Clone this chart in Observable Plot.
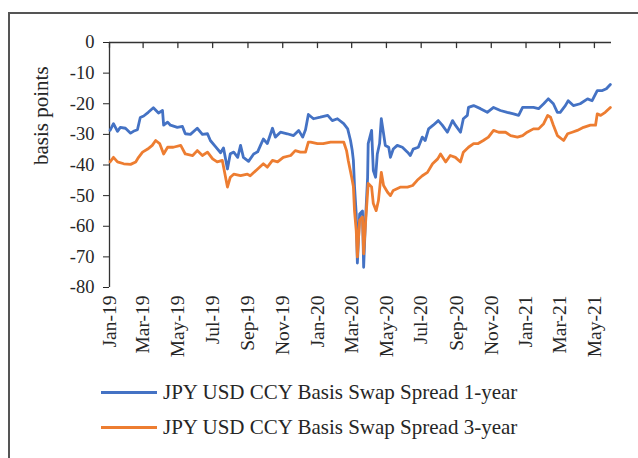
<!DOCTYPE html>
<html>
<head>
<meta charset="utf-8">
<script src="https://cdn.jsdelivr.net/npm/d3@7"></script>
<script src="https://cdn.jsdelivr.net/npm/@observablehq/plot@0.6"></script>
<style>
  html, body { margin: 0; padding: 0; background: #fff; width: 638px; height: 458px; overflow: hidden; }
  #border { position: absolute; left: 8px; top: 12px; width: 700px; height: 500px;
            border-left: 2px solid #555; border-top: 2px solid #555; }
  #chart { position: absolute; left: 0; top: 0; }
  #legend { position: absolute; left: 101px; top: 375px; font-family: "Liberation Serif", serif;
            font-size: 21px; color: #262626; }
  .row { display: flex; align-items: center; height: 35px; }
  .sw { width: 56px; height: 3px; margin-right: 6px; }
</style>
</head>
<body>
<div id="border"></div>
<div id="chart"></div>
<div id="legend"></div>
<script>
const seriesNames = ["JPY USD CCY Basis Swap Spread 1-year", "JPY USD CCY Basis Swap Spread 3-year"];
const seriesColors = ["#4472C4", "#ED7D31"];
const xDomain = ["2019-01-01", "2021-05-31"];
const yTicks = [0, -10, -20, -30, -40, -50, -60, -70, -80];
const xTicks = ["2019-01-01","2019-03-01","2019-05-01","2019-07-01","2019-09-01","2019-11-01",
  "2020-01-01","2020-03-01","2020-05-01","2020-07-01","2020-09-01","2020-11-01",
  "2021-01-01","2021-03-01","2021-05-01"];

const dates1 = ["2019-01-02","2019-01-08","2019-01-15","2019-01-20","2019-01-29","2019-02-07","2019-02-12","2019-02-19","2019-02-24","2019-03-02",
  "2019-03-10","2019-03-19","2019-03-28","2019-04-04","2019-04-06","2019-04-13","2019-04-18","2019-04-30","2019-05-09","2019-05-14",
  "2019-05-23","2019-06-04","2019-06-13","2019-06-22","2019-06-27","2019-07-06","2019-07-15","2019-07-20","2019-07-27","2019-08-01",
  "2019-08-07","2019-08-14","2019-08-19","2019-08-24","2019-09-02","2019-09-11","2019-09-18","2019-09-23","2019-09-28","2019-10-05",
  "2019-10-14","2019-10-19","2019-10-28","2019-11-09","2019-11-20","2019-11-29","2019-12-06","2019-12-11","2019-12-16","2019-12-25",
  "2020-01-06","2020-01-19","2020-01-27","2020-02-05","2020-02-16","2020-02-23","2020-02-28","2020-03-02","2020-03-04","2020-03-06",
  "2020-03-09","2020-03-11","2020-03-15","2020-03-20","2020-03-22","2020-03-25","2020-03-29","2020-03-30","2020-04-05","2020-04-08",
  "2020-04-12","2020-04-15","2020-04-19","2020-04-22","2020-04-26","2020-04-29","2020-05-05","2020-05-08","2020-05-13","2020-05-20",
  "2020-05-29","2020-06-07","2020-06-12","2020-06-17","2020-06-26","2020-07-03","2020-07-08","2020-07-14","2020-07-22","2020-07-31",
  "2020-08-07","2020-08-16","2020-08-25","2020-08-30","2020-09-08","2020-09-13","2020-09-20","2020-09-22","2020-10-01","2020-10-13",
  "2020-10-25","2020-11-05","2020-11-17","2020-11-29","2020-12-10","2020-12-19","2020-12-26","2021-01-03","2021-01-14","2021-01-23",
  "2021-02-01","2021-02-09","2021-02-18","2021-02-25","2021-03-02","2021-03-11","2021-03-16","2021-03-25","2021-04-06","2021-04-19",
  "2021-04-27","2021-05-06","2021-05-15","2021-05-22","2021-05-29"];
const spread1 = [-28.7,-26.5,-29,-27.7,-28,-29.6,-29,-28.5,-24.5,-24,
  -22.8,-21.3,-23,-22.2,-27,-26,-27,-27.7,-27.4,-29.8,
  -30,-28,-30,-29.8,-32,-34,-36,-34.4,-41.3,-36.3,
  -35.8,-37.5,-33.6,-37.5,-38.8,-36.4,-35.7,-33.6,-31.5,-33,
  -28,-30.9,-29.3,-29.8,-30.4,-28.7,-30.9,-28.5,-23.5,-24.9,
  -24.4,-23.8,-25.5,-24.9,-26.5,-28.2,-32,-35.3,-38.5,-47,
  -56,-72,-56,-55,-73.4,-59,-44,-33,-28.7,-41.8,
  -44,-36.4,-33,-24.9,-29.8,-33.6,-34.2,-37.5,-34.8,-33.6,
  -34.2,-35.8,-36.9,-34.8,-34.2,-30.9,-32,-28.2,-27,-25.5,
  -27,-29.3,-25.5,-27,-29.3,-24.9,-23.8,-21.2,-20.6,-21.6,
  -22.8,-21.2,-22.2,-22.8,-23.3,-23.8,-21.2,-21.2,-21.2,-21.6,
  -20,-18.4,-20,-22.8,-22.8,-20.6,-19,-20.6,-20,-18.4,
  -19,-15.7,-15.7,-15.1,-13.7];

const dates2 = ["2019-01-02","2019-01-08","2019-01-15","2019-01-26","2019-02-07","2019-02-16","2019-02-21","2019-02-28","2019-03-09","2019-03-17",
  "2019-03-23","2019-03-30","2019-04-06","2019-04-13","2019-04-23","2019-05-06","2019-05-14","2019-05-27","2019-06-04","2019-06-13",
  "2019-06-22","2019-07-01","2019-07-09","2019-07-18","2019-07-27","2019-08-01","2019-08-07","2019-08-19","2019-08-31","2019-09-05",
  "2019-09-18","2019-09-28","2019-10-05","2019-10-14","2019-10-23","2019-11-02","2019-11-15","2019-11-23","2019-12-02","2019-12-11",
  "2019-12-16","2019-12-20","2020-01-01","2020-01-11","2020-01-24","2020-02-05","2020-02-16","2020-02-21","2020-02-24","2020-03-01",
  "2020-03-04","2020-03-06","2020-03-09","2020-03-11","2020-03-15","2020-03-20","2020-03-22","2020-03-25","2020-03-30","2020-04-05",
  "2020-04-08","2020-04-13","2020-04-17","2020-04-22","2020-04-26","2020-05-03","2020-05-08","2020-05-13","2020-05-26","2020-06-07",
  "2020-06-16","2020-06-24","2020-07-03","2020-07-12","2020-07-21","2020-07-30","2020-08-04","2020-08-13","2020-08-21","2020-08-30",
  "2020-09-08","2020-09-13","2020-09-22","2020-10-01","2020-10-09","2020-10-18","2020-10-27","2020-11-05","2020-11-14","2020-11-26",
  "2020-12-05","2020-12-17","2020-12-26","2021-01-03","2021-01-14","2021-01-23","2021-02-01","2021-02-08","2021-02-13","2021-02-18",
  "2021-02-25","2021-03-08","2021-03-15","2021-03-23","2021-04-01","2021-04-12","2021-04-24","2021-05-03","2021-05-06","2021-05-12",
  "2021-05-20","2021-05-29"];
const spread2 = [-39,-37.5,-39,-39.6,-39.8,-39,-37.5,-35.8,-34.8,-33.6,
  -32,-33,-36.4,-34.2,-34.2,-33.6,-36.4,-36.9,-35.3,-36.9,
  -35.8,-38,-39,-38.5,-47.2,-44,-43,-43.5,-43,-43.5,
  -41.3,-39.6,-40.7,-38.5,-39,-37.5,-36.9,-35.3,-35.8,-35.8,
  -32.5,-32.5,-33,-33,-32.5,-32.5,-32.5,-35.3,-38.5,-44,
  -47,-55,-61.4,-70,-58,-57,-69,-60,-46,-47.2,
  -52.6,-54.9,-51.6,-42.4,-46.7,-48.9,-50,-48.3,-47.2,-47.2,
  -46.7,-45,-43.5,-42.4,-39.6,-38,-36.4,-39,-36.9,-37.5,
  -39,-35.8,-34.2,-33,-33,-32,-30.9,-28.7,-29.3,-29.3,
  -30.4,-30.9,-30.4,-29.3,-28.2,-28.2,-26.5,-23.8,-24.4,-27,
  -30.4,-32,-29.8,-29.3,-28.7,-27.7,-27,-27,-23.3,-23.8,
  -22.8,-21.2];

const parse = d3.utcParse("%Y-%m-%d");
const s1 = dates1.map((d, i) => ({date: parse(d), value: spread1[i]}));
const s2 = dates2.map((d, i) => ({date: parse(d), value: spread2[i]}));
const tickDates = xTicks.map(parse);
const domainX = xDomain.map(parse);
const font = "Liberation Serif, serif";
const tickDown = {draw(context, l) { context.moveTo(0, 0); context.lineTo(0, l); }};

const chart = Plot.plot({
  width: 638,
  height: 380,
  marginTop: 42,
  marginLeft: 109,
  marginRight: 27,
  marginBottom: 93,
  style: {fontFamily: font, fontSize: "18px", color: "#262626", background: "transparent"},
  x: {type: "utc", domain: domainX},
  y: {domain: [-80, 0]},
  marks: [
    Plot.axisY({ticks: yTicks, tickSize: 6, tickPadding: 9, label: null, fontSize: 18.5, tickFormat: d => d === 0 ? "0" : "-" + Math.abs(d)}),
    Plot.axisX({anchor: "bottom", ticks: tickDates, tickSize: 0, tickPadding: 8, tickRotate: -90,
                tickFormat: d3.utcFormat("%b-%y"), label: null, fontSize: 19.5}),
    Plot.vectorX(tickDates, {x: d => d, frameAnchor: "top", length: 5, anchor: "start", shape: tickDown, stroke: "#333", strokeWidth: 1.3}),
    Plot.ruleY([0], {stroke: "#333", strokeWidth: 1.3}),
    Plot.ruleX([domainX[0]], {stroke: "#333", strokeWidth: 1.3}),
    Plot.text(["basis points"], {frameAnchor: "left", rotate: -90, dx: -68, fontSize: 21, fill: "#262626"}),
    Plot.line(s1, {x: "date", y: "value", stroke: seriesColors[0], strokeWidth: 2.8}),
    Plot.line(s2, {x: "date", y: "value", stroke: seriesColors[1], strokeWidth: 2.8})
  ]
});
document.getElementById("chart").appendChild(chart);

const legend = document.getElementById("legend");
seriesNames.forEach((name, i) => {
  const row = document.createElement("div");
  row.className = "row";
  const sw = document.createElement("span");
  sw.className = "sw";
  sw.style.background = seriesColors[i];
  const label = document.createElement("span");
  label.textContent = name;
  row.appendChild(sw);
  row.appendChild(label);
  legend.appendChild(row);
});
</script>
</body>
</html>
